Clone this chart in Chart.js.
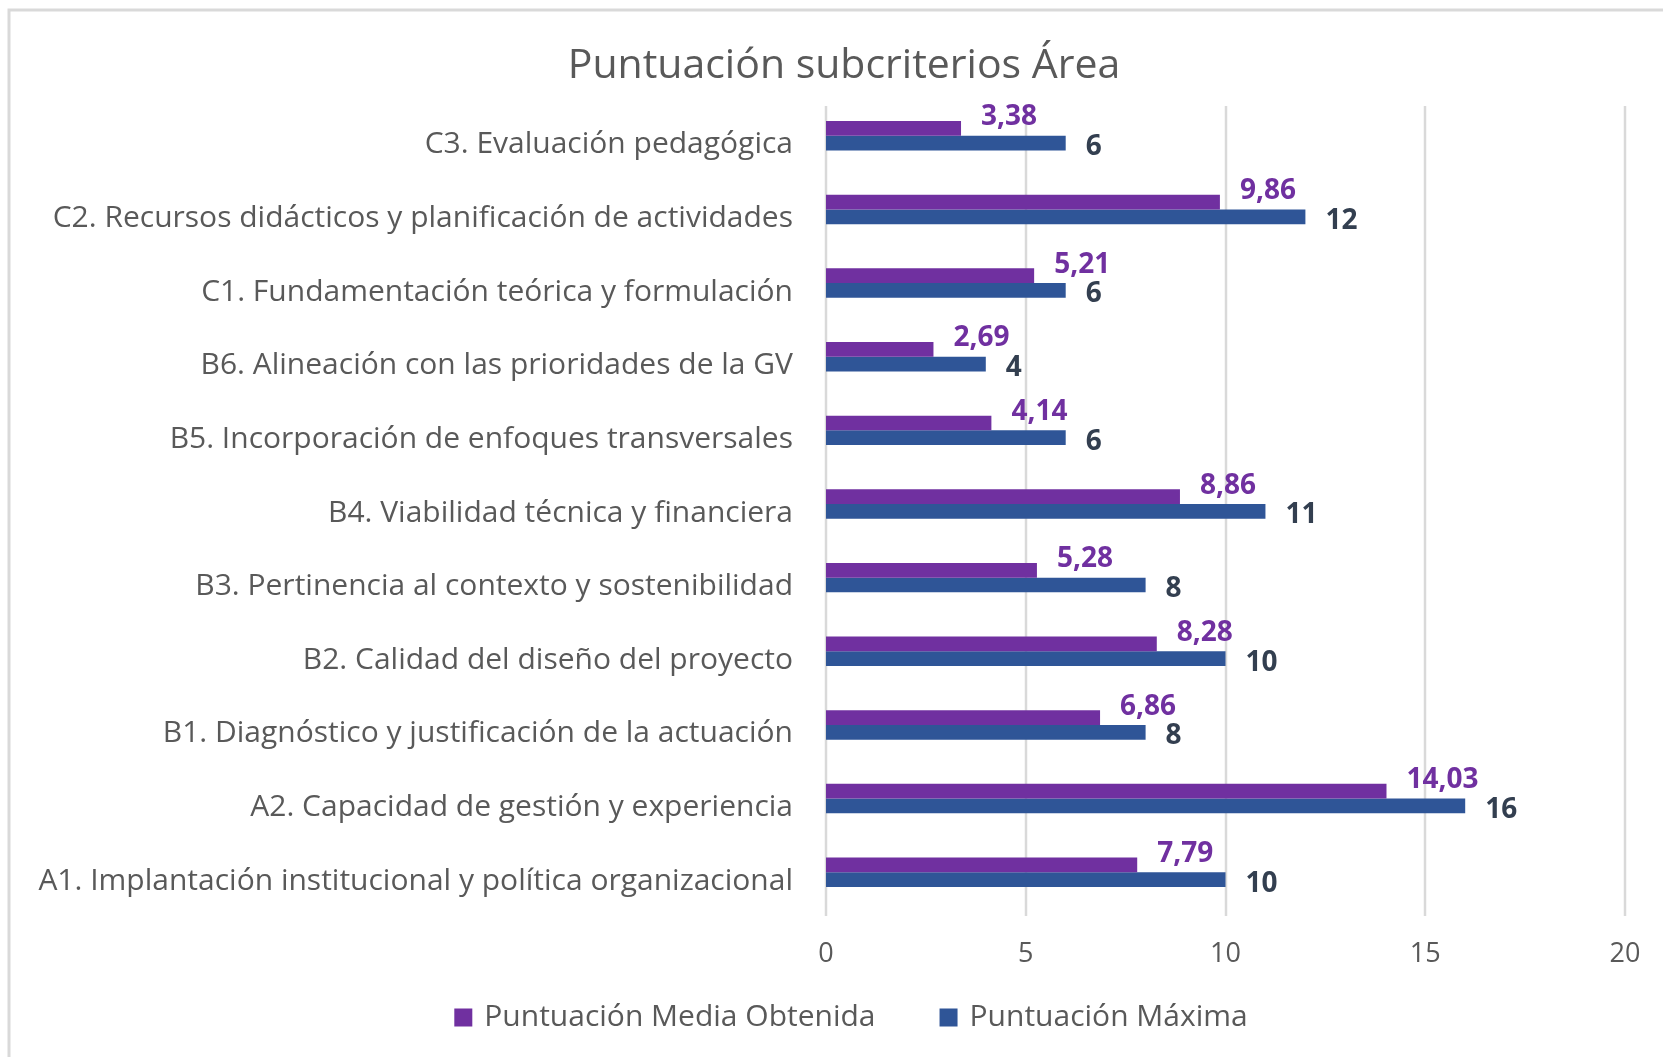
<!DOCTYPE html>
<html>
<head>
<meta charset="utf-8">
<script src="https://cdn.jsdelivr.net/npm/chart.js@4.4.1/dist/chart.umd.min.js"></script>
<style>
html,body{margin:0;padding:0;background:#fff;}
#wrap{position:absolute;left:0;top:0;width:1663px;height:1057px;}
</style>
</head>
<body>
<div id="wrap"><canvas id="c" width="1663" height="1057"></canvas></div>
<script>
// Categories listed top to bottom as shown in the chart
const categories = [
  "C3. Evaluación pedagógica",
  "C2. Recursos didácticos y planificación de actividades",
  "C1. Fundamentación teórica y formulación",
  "B6. Alineación con las prioridades de la GV",
  "B5. Incorporación de enfoques transversales",
  "B4. Viabilidad técnica y financiera",
  "B3. Pertinencia al contexto y sostenibilidad",
  "B2. Calidad del diseño del proyecto",
  "B1. Diagnóstico y justificación de la actuación",
  "A2. Capacidad de gestión y experiencia",
  "A1. Implantación institucional y política organizacional"
];
const mediaObtenida = [3.38, 9.86, 5.21, 2.69, 4.14, 8.86, 5.28, 8.28, 6.86, 14.03, 7.79];
const puntuacionMaxima = [6, 12, 6, 4, 6, 11, 8, 10, 8, 16, 10];
const seriesNames = ["Puntuación Media Obtenida", "Puntuación Máxima"];
const chartTitle = "Puntuación subcriterios Área";
const xTicks = [0, 5, 10, 15, 20];

const FONT = "'Open Sans', sans-serif";
const GREY_TEXT = "#595959";
const PURPLE = "#7030A0";
const BLUE = "#2F5597";
const BLUE_LABEL = "#333F50";
const GRID = "#D9D9D9";

const PLOT_LEFT = 826;
const PAD_LEFT = 4;
const PAD_RIGHT = 38;

const bgPlugin = {
  id: 'bg',
  beforeDraw(chart) {
    const ctx = chart.ctx;
    ctx.save();
    ctx.fillStyle = '#ffffff';
    ctx.fillRect(0, 0, chart.width, chart.height);
    ctx.strokeStyle = '#D9D9D9';
    ctx.lineWidth = 3;
    ctx.beginPath();
    ctx.moveTo(9, chart.height);
    ctx.lineTo(9, 10);
    ctx.lineTo(chart.width, 10);
    ctx.stroke();
    ctx.restore();
  }
};

// vertical gridlines (Excel draws them slightly shifted below the category bands)
const gridPlugin = {
  id: 'vgrid',
  beforeDatasetsDraw(chart) {
    const ctx = chart.ctx;
    const xs = chart.scales.x;
    const a = chart.chartArea;
    ctx.save();
    ctx.strokeStyle = GRID;
    ctx.lineWidth = 2.5;
    xTicks.forEach(v => {
      const x = Math.round(xs.getPixelForValue(v));
      ctx.beginPath();
      ctx.moveTo(x, a.top + 7);
      ctx.lineTo(x, a.bottom + 7);
      ctx.stroke();
    });
    ctx.restore();
  }
};

const labelPlugin = {
  id: 'valueLabels',
  afterDatasetsDraw(chart) {
    const ctx = chart.ctx;
    ctx.save();
    ctx.font = "bold 28px " + FONT;
    ctx.textAlign = 'left';
    ctx.textBaseline = 'middle';
    chart.data.datasets.forEach((ds, di) => {
      const meta = chart.getDatasetMeta(di);
      meta.data.forEach((bar, i) => {
        const v = ds.data[i];
        const txt = di === 0 ? v.toFixed(2).replace('.', ',') : String(v);
        ctx.fillStyle = di === 0 ? PURPLE : BLUE_LABEL;
        const dy = di === 0 ? -11 : 4;
        ctx.fillText(txt, bar.x + 20, bar.y + dy);
      });
    });
    ctx.restore();
  }
};

// title and legend drawn as canvas text (positioned like the Excel original)
const titleLegendPlugin = {
  id: 'titleLegend',
  afterDraw(chart) {
    const ctx = chart.ctx;
    ctx.save();
    ctx.fillStyle = GREY_TEXT;
    ctx.font = "41px " + FONT;
    ctx.textAlign = 'center';
    ctx.textBaseline = 'middle';
    ctx.fillText(chartTitle, 844, 66);

    ctx.font = "30px " + FONT;
    ctx.textAlign = 'left';
    const box = 18, gapText = 12, gapItem = 64, cy = 1017.5;
    const items = chart.data.datasets.map(ds => ({ text: ds.label, color: ds.backgroundColor, w: ctx.measureText(ds.label).width }));
    const total = items.reduce((s, it) => s + box + gapText + it.w, 0) + gapItem * (items.length - 1);
    let x = 851 - total / 2;
    items.forEach(it => {
      ctx.fillStyle = it.color;
      ctx.fillRect(x, cy - box / 2, box, box);
      x += box + gapText;
      ctx.fillStyle = GREY_TEXT;
      ctx.fillText(it.text, x, cy);
      x += it.w + gapItem;
    });
    ctx.restore();
  }
};

new Chart(document.getElementById('c'), {
  type: 'bar',
  data: {
    labels: categories,
    datasets: [
      { label: seriesNames[0], data: mediaObtenida, backgroundColor: PURPLE, borderWidth: 0 },
      { label: seriesNames[1], data: puntuacionMaxima, backgroundColor: BLUE, borderWidth: 0 }
    ]
  },
  options: {
    indexAxis: 'y',
    responsive: false,
    animation: false,
    devicePixelRatio: 1,
    layout: { padding: { left: PAD_LEFT, right: PAD_RIGHT, top: 99, bottom: 64 } },
    datasets: { bar: { categoryPercentage: 0.4, barPercentage: 1.0 } },
    scales: {
      x: {
        min: 0, max: 20,
        afterBuildTicks(scale) { scale.ticks = xTicks.map(v => ({ value: v })); },
        afterFit(scale) { scale.height = 84; scale.paddingLeft = 0; scale.paddingRight = 0; },
        grid: { display: false, drawTicks: false },
        border: { display: false },
        ticks: { color: GREY_TEXT, font: { family: FONT, size: 27 }, padding: 29 }
      },
      y: {
        afterFit(scale) { scale.width = PLOT_LEFT - PAD_LEFT; scale.paddingTop = 0; scale.paddingBottom = 0; },
        grid: { display: false, drawTicks: false },
        border: { display: false },
        ticks: { color: GREY_TEXT, font: { family: FONT, size: 30 }, padding: 33, labelOffset: 9, autoSkip: false }
      }
    },
    plugins: {
      title: { display: false },
      legend: { display: false },
      tooltip: { enabled: false }
    }
  },
  plugins: [bgPlugin, gridPlugin, labelPlugin, titleLegendPlugin]
});
</script>
</body>
</html>
